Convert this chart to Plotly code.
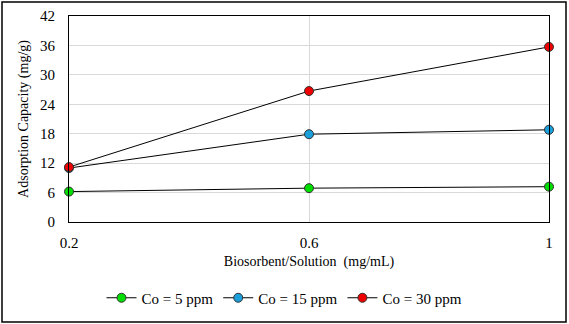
import plotly.graph_objects as go

x_vals = [0.2, 0.6, 1.0]
co5 = [6.2, 6.9, 7.2]
co15 = [11.0, 17.9, 18.8]
co30 = [11.2, 26.7, 35.7]
names = ["Co = 5 ppm", "Co = 15 ppm", "Co = 30 ppm"]
colors = ["#00dd00", "#1a9fdb", "#ee0000"]
y_ticks = [0, 6, 12, 18, 24, 30, 36, 42]
x_ticks = [0.2, 0.6, 1.0]
x_tick_labels = ["0.2", "0.6", "1"]

fig = go.Figure()
for name, ys, c in zip(names, [co5, co15, co30], colors):
    fig.add_trace(go.Scatter(
        x=x_vals, y=ys, name=name, mode="lines+markers",
        line=dict(color="black", width=1),
        marker=dict(color=c, size=9, line=dict(color="#333333", width=1)),
        cliponaxis=False,
    ))

font = "'Times New Roman', 'Liberation Serif', 'DejaVu Serif', serif"
fig.update_layout(
    width=569, height=324,
    margin=dict(l=69, r=20, t=16, b=102, autoexpand=False),
    paper_bgcolor="white", plot_bgcolor="white",
    font=dict(family=font, size=14, color="black"),
    showlegend=True,
    legend=dict(orientation="h", x=0.5, xanchor="center", xref="container",
                y=(324 - 298) / 324, yanchor="middle", yref="container",
                bgcolor="rgba(0,0,0,0)",
                font=dict(size=15, family=font), itemwidth=30, tracegroupgap=0),
    xaxis=dict(range=[0.2, 1.0], tickvals=x_ticks, ticktext=x_tick_labels,
               showgrid=True, gridcolor="#d9d9d9", gridwidth=1,
               showline=True, linecolor="black", linewidth=1, mirror=True,
               ticks="", zeroline=False, ticklabelstandoff=7,
               tickfont=dict(size=15, family=font),
               title=dict(text="Biosorbent/Solution  (mg/mL)",
                          font=dict(size=14, family=font), standoff=6)),
    yaxis=dict(range=[0, 42], tickvals=y_ticks,
               showgrid=True, gridcolor="#d9d9d9", gridwidth=1,
               showline=True, linecolor="black", linewidth=1, mirror=True,
               ticks="", zeroline=False, ticklabelstandoff=10,
               tickfont=dict(size=15, family=font),
               title=dict(text="Adsorption Capacity (mg/g)",
                          font=dict(size=14, family=font), standoff=8)),
    shapes=[dict(type="rect", xref="paper", yref="paper",
                 x0=(2 - 69) / 480, x1=(566 - 69) / 480,
                 y0=(222 - 322) / 206, y1=(222 - 2) / 206,
                 line=dict(color="black", width=1.5), layer="below")],
)

fig.write_html("out.html")
